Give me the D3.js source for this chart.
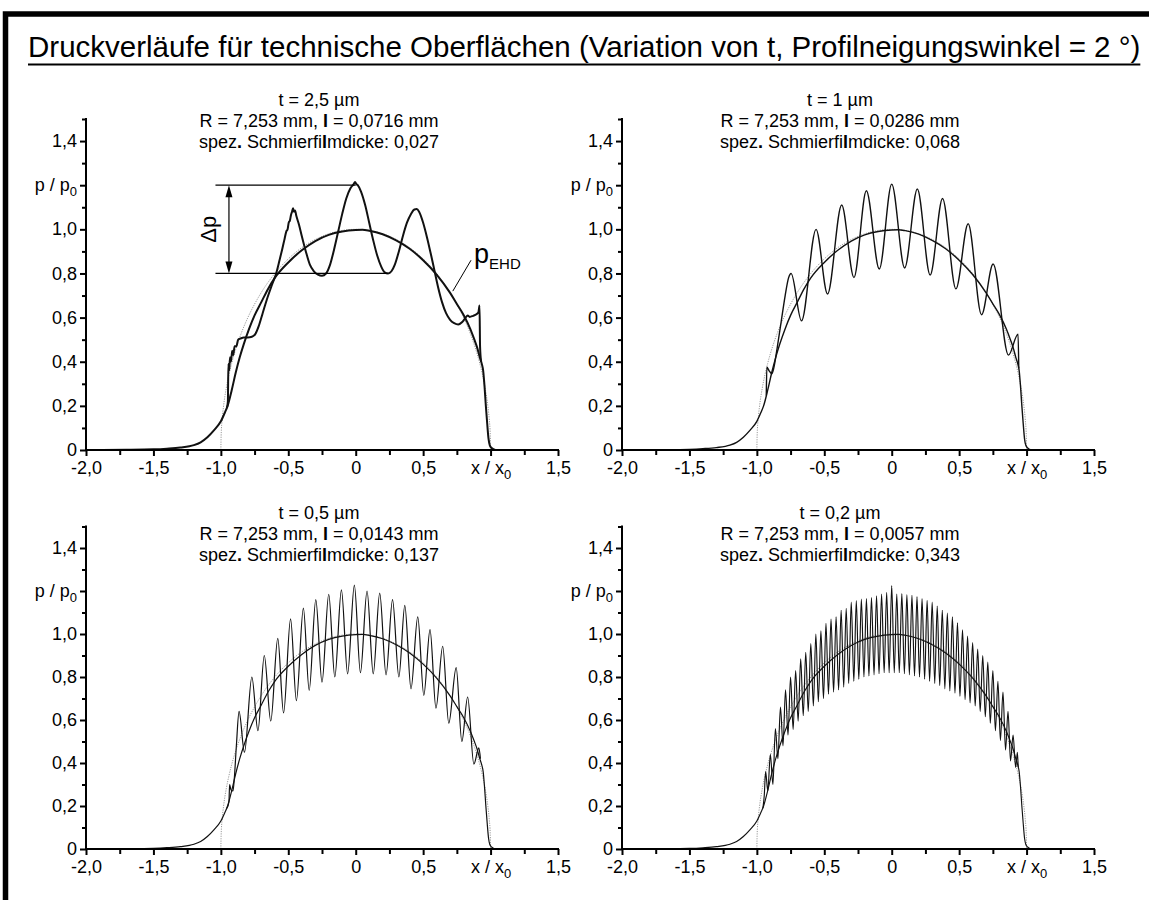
<!DOCTYPE html>
<html>
<head>
<meta charset="utf-8">
<script src="https://cdn.jsdelivr.net/npm/d3@7"></script>
<style>
  body { margin: 0; background: #fff; }
  svg { display: block; }
  text { font-family: "Liberation Sans", Arial, sans-serif; fill: #000; }
</style>
</head>
<body>
<svg id="chart" width="1149" height="900"></svg>
<script>
// ---------- axis ticks ----------
const xMajor = [-2, -1.5, -1, -0.5, 0, 0.5, 1, 1.5];
const xMajorLabels = ["-2,0", "-1,5", "-1,0", "-0,5", "0", "0,5", "x / x|0", "1,5"];
const xMinor = [-1.75, -1.25, -0.75, -0.25, 0.25, 0.75, 1.25];
const yMajor = [0, 0.2, 0.4, 0.6, 0.8, 1.0, 1.2, 1.4];
const yMajorLabels = ["0", "0,2", "0,4", "0,6", "0,8", "1,0", "p / p|0", "1,4"];
const yMinor = [0.1, 0.3, 0.5, 0.7, 0.9, 1.1, 1.3, 1.5];

// ---------- panel headings ----------
const tValues = ["2,5", "1", "0,5", "0,2"];
const radiusValue = "7,253";
const lValues = ["0,0716", "0,0286", "0,0143", "0,0057"];
const filmValues = ["0,027", "0,068", "0,137", "0,343"];

// ---------- Hertz pressure (dotted grey reference) ----------
const hertz = [
  [-1, 0], [-0.998, 0.063], [-0.99, 0.141], [-0.98, 0.199], [-0.96, 0.28], [-0.94, 0.341],
  [-0.92, 0.392], [-0.9, 0.436], [-0.85, 0.527], [-0.8, 0.6], [-0.75, 0.661], [-0.7, 0.714],
  [-0.6, 0.8], [-0.5, 0.866], [-0.4, 0.917], [-0.3, 0.954], [-0.2, 0.98], [-0.1, 0.995],
  [0, 1], [0.1, 0.995], [0.2, 0.98], [0.3, 0.954], [0.4, 0.917], [0.5, 0.866], [0.6, 0.8],
  [0.7, 0.714], [0.75, 0.661], [0.8, 0.6], [0.85, 0.527], [0.9, 0.436], [0.92, 0.392],
  [0.94, 0.341], [0.96, 0.28], [0.98, 0.199], [0.99, 0.141], [0.998, 0.063], [1, 0]
];

// ---------- smooth EHD pressure ----------
const ehd = [
  [-2.0, 0], [-1.7, 0.001], [-1.5, 0.003], [-1.4, 0.006], [-1.3, 0.011], [-1.2, 0.022],
  [-1.15, 0.035], [-1.1, 0.058], [-1.05, 0.09], [-1.0, 0.13], [-0.97, 0.17], [-0.95, 0.2],
  [-0.92, 0.27], [-0.89, 0.35], [-0.86, 0.42], [-0.83, 0.48], [-0.79, 0.55], [-0.75, 0.61],
  [-0.7, 0.67], [-0.65, 0.73], [-0.6, 0.78], [-0.5, 0.85], [-0.4, 0.905], [-0.3, 0.947],
  [-0.2, 0.975], [-0.1, 0.99], [0.0, 0.997], [0.05, 0.998], [0.1, 0.994], [0.2, 0.978],
  [0.3, 0.95], [0.4, 0.912], [0.5, 0.86], [0.6, 0.795], [0.7, 0.712], [0.75, 0.662],
  [0.8, 0.612], [0.85, 0.548], [0.88, 0.5], [0.9, 0.465], [0.92, 0.42], [0.935, 0.39],
  [0.945, 0.36], [0.955, 0.29], [0.965, 0.2], [0.975, 0.12], [0.985, 0.05], [0.995, 0.02],
  [1.01, 0.008], [1.035, 0]
];

// ---------- rough-surface pressure, t = 2,5 µm ----------
const rough25 = [
  [-0.955, 0.19], [-0.948, 0.22], [-0.944, 0.39], [-0.938, 0.36], [-0.932, 0.42], [-0.925, 0.4],
  [-0.916, 0.45], [-0.908, 0.43], [-0.898, 0.47], [-0.885, 0.47], [-0.872, 0.5], [-0.855, 0.505],
  [-0.83, 0.51], [-0.8, 0.51], [-0.77, 0.513], [-0.745, 0.525], [-0.72, 0.56], [-0.69, 0.62],
  [-0.66, 0.68], [-0.62, 0.75], [-0.59, 0.8], [-0.565, 0.86], [-0.545, 0.91], [-0.53, 0.95],
  [-0.515, 0.99], [-0.505, 1.0], [-0.497, 1.03], [-0.488, 1.04], [-0.48, 1.065], [-0.472, 1.08],
  [-0.465, 1.095], [-0.458, 1.08], [-0.45, 1.085], [-0.44, 1.06], [-0.42, 1.02], [-0.4, 0.97],
  [-0.37, 0.9], [-0.34, 0.84], [-0.31, 0.81], [-0.28, 0.795], [-0.25, 0.79], [-0.22, 0.8],
  [-0.19, 0.84], [-0.16, 0.91], [-0.13, 0.99], [-0.1, 1.07], [-0.07, 1.14], [-0.04, 1.185],
  [-0.015, 1.205], [-0.005, 1.215], [0.005, 1.205], [0.015, 1.2], [0.04, 1.17], [0.07, 1.11],
  [0.1, 1.03], [0.13, 0.95], [0.16, 0.88], [0.19, 0.83], [0.215, 0.805], [0.24, 0.8],
  [0.265, 0.81], [0.29, 0.84], [0.32, 0.9], [0.35, 0.97], [0.38, 1.03], [0.41, 1.07],
  [0.435, 1.09], [0.452, 1.092], [0.47, 1.08], [0.5, 1.03], [0.53, 0.96], [0.56, 0.88],
  [0.585, 0.81], [0.61, 0.74], [0.64, 0.67], [0.67, 0.62], [0.7, 0.59], [0.73, 0.575],
  [0.76, 0.569], [0.79, 0.58], [0.815, 0.6], [0.83, 0.61], [0.845, 0.603], [0.87, 0.608],
  [0.895, 0.615], [0.91, 0.625], [0.918, 0.655], [0.922, 0.47], [0.93, 0.4]
];

// ---------- rough-surface pressure, t = 1 µm ----------
const rough10 = [
  [-0.93, 0.247], [-0.926, 0.375], [-0.91, 0.36], [-0.89, 0.345], [-0.875, 0.37], [-0.85, 0.46],
  [-0.82, 0.58], [-0.79, 0.7], [-0.765, 0.78], [-0.746, 0.8], [-0.669, 0.585], [-0.561, 1.0],
  [-0.476, 0.707], [-0.371, 1.11], [-0.28, 0.782], [-0.188, 1.175], [-0.092, 0.82], [0.0, 1.205],
  [0.096, 0.825], [0.19, 1.183], [0.285, 0.793], [0.377, 1.14], [0.476, 0.73], [0.567, 1.025],
  [0.666, 0.613], [0.752, 0.843], [0.866, 0.43], [0.937, 0.525], [0.942, 0.37]
];

// ---------- rough-surface pressure, t = 0,5 µm ----------
const rough05 = [
  [-0.955, 0.19], [-0.94, 0.22], [-0.935, 0.3], [-0.925, 0.275], [-0.91, 0.27], [-0.9, 0.33],
  [-0.885, 0.48], [-0.865, 0.64], [-0.825, 0.45], [-0.77, 0.8], [-0.725, 0.55], [-0.678, 0.9],
  [-0.63, 0.595], [-0.578, 0.98], [-0.535, 0.633], [-0.483, 1.07], [-0.44, 0.69], [-0.388, 1.12],
  [-0.345, 0.738], [-0.296, 1.16], [-0.25, 0.776], [-0.2, 1.185], [-0.155, 0.8], [-0.106, 1.205],
  [-0.06, 0.815], [-0.01, 1.227], [0.035, 0.82], [0.084, 1.2], [0.13, 0.815], [0.178, 1.19],
  [0.225, 0.81], [0.273, 1.16], [0.32, 0.8], [0.364, 1.133], [0.41, 0.745], [0.46, 1.08],
  [0.505, 0.715], [0.551, 1.02], [0.595, 0.655], [0.645, 0.943], [0.69, 0.585], [0.745, 0.844],
  [0.787, 0.5], [0.83, 0.707], [0.876, 0.395], [0.913, 0.47], [0.925, 0.42]
];

// ---------- rough-surface pressure, t = 0,2 µm ----------
const rough02 = [
  [-0.955, 0.19], [-0.945, 0.25], [-0.935, 0.36], [-0.919, 0.27], [-0.9, 0.44], [-0.881, 0.3],
  [-0.8625, 0.56], [-0.844, 0.42], [-0.825, 0.66], [-0.806, 0.48], [-0.7875, 0.74], [-0.769, 0.53],
  [-0.75, 0.8], [-0.731, 0.556], [-0.7125, 0.83], [-0.694, 0.595], [-0.675, 0.885], [-0.656, 0.62],
  [-0.6375, 0.915], [-0.619, 0.64], [-0.6, 0.955], [-0.581, 0.665], [-0.5625, 1.0], [-0.544, 0.685],
  [-0.525, 1.015], [-0.506, 0.7], [-0.4875, 1.05], [-0.469, 0.72], [-0.45, 1.07], [-0.431, 0.73],
  [-0.4125, 1.08], [-0.394, 0.74], [-0.375, 1.11], [-0.356, 0.753], [-0.3375, 1.12], [-0.319, 0.77],
  [-0.3, 1.148], [-0.281, 0.78], [-0.2625, 1.155], [-0.244, 0.79], [-0.225, 1.162], [-0.206, 0.8],
  [-0.1875, 1.165], [-0.169, 0.805], [-0.15, 1.17], [-0.131, 0.81], [-0.1125, 1.178], [-0.094, 0.815],
  [-0.075, 1.186], [-0.056, 0.82], [-0.0375, 1.194], [-0.019, 0.82], [0, 1.225], [0.019, 0.82],
  [0.0375, 1.186], [0.056, 0.82], [0.075, 1.188], [0.094, 0.815], [0.1125, 1.183], [0.131, 0.81],
  [0.15, 1.18], [0.169, 0.805], [0.1875, 1.174], [0.206, 0.8], [0.225, 1.165], [0.244, 0.79],
  [0.2625, 1.157], [0.281, 0.78], [0.3, 1.148], [0.319, 0.77], [0.3375, 1.13], [0.356, 0.76],
  [0.375, 1.11], [0.394, 0.745], [0.4125, 1.097], [0.431, 0.735], [0.45, 1.08], [0.469, 0.725],
  [0.4875, 1.052], [0.506, 0.71], [0.525, 1.02], [0.544, 0.695], [0.5625, 0.99], [0.581, 0.68],
  [0.6, 0.96], [0.619, 0.665], [0.6375, 0.93], [0.656, 0.64], [0.675, 0.9], [0.694, 0.615],
  [0.7125, 0.87], [0.731, 0.585], [0.75, 0.83], [0.769, 0.55], [0.7875, 0.78], [0.806, 0.505],
  [0.825, 0.73], [0.844, 0.46], [0.8625, 0.64], [0.881, 0.41], [0.9, 0.53], [0.919, 0.38],
  [0.932, 0.45], [0.938, 0.38]
];

const roughSeries = [rough25, rough10, rough05, rough02];

// Δp annotation in the first panel: pressure levels and x extent
const dpTop = 1.2, dpBottom = 0.8;
const dpLineStart = -1.04, dpTopEnd = 0.0, dpBottomEnd = 0.24, dpArrowX = -0.94;
// p_EHD label leader line (start on the curve, end near the label)
const ehdLeader = [[0.72, 0.72], [0.855, 0.86]];

// ---------- layout ----------
const W = 1149, H = 900;
const layout = [
  { x0: 86,  x1: 558,  yB: 450, yT: 119,   cx: 319, ty: 106, lw: 2.0 },
  { x0: 622, x1: 1094, yB: 450, yT: 119,   cx: 840, ty: 106, lw: 1.4 },
  { x0: 86,  x1: 558,  yB: 849, yT: 526.5, cx: 319, ty: 519, lw: 1.2 },
  { x0: 622, x1: 1094, yB: 849, yT: 526.5, cx: 840, ty: 519, lw: 1.15 }
];

const svg = d3.select("#chart");

// outer frame (continues past the right and bottom edges)
svg.append("rect")
  .attr("x", 5.5).attr("y", 14)
  .attr("width", W + 40).attr("height", H + 40)
  .attr("fill", "none").attr("stroke", "#000").attr("stroke-width", 5.5);

// title
const title = svg.append("text")
  .attr("x", 28).attr("y", 57)
  .attr("font-size", 29.5)
  .text("Druckverläufe für technische Oberflächen (Variation von t, Profilneigungswinkel = 2 °)");
const tb = title.node().getBBox();
svg.append("line")
  .attr("x1", tb.x).attr("x2", tb.x + tb.width)
  .attr("y1", 64.5).attr("y2", 64.5)
  .attr("stroke", "#000").attr("stroke-width", 2);

// writes "base|sub" as text with a subscript part
function labelWithSub(sel, str, subSize, dy) {
  const parts = str.split("|");
  sel.text(null);
  sel.append("tspan").text(parts[0]);
  if (parts.length > 1) {
    sel.append("tspan").attr("font-size", subSize).attr("dy", dy).text(parts[1]);
  }
}

layout.forEach((L, i) => {
  const x = d3.scaleLinear().domain([-2, 1.5]).range([L.x0, L.x1]);
  const y = d3.scaleLinear().domain([0, 1.5]).range([L.yB, L.yT]);
  const g = svg.append("g");

  // heading lines
  const head = g.append("g").attr("font-size", 18).attr("text-anchor", "middle");
  head.append("text").attr("x", L.cx).attr("y", L.ty).text(`t = ${tValues[i]} µm`);
  const r = head.append("text").attr("x", L.cx).attr("y", L.ty + 21);
  r.append("tspan").text(`R = ${radiusValue} mm, `);
  r.append("tspan").attr("font-weight", "bold").text("l");
  r.append("tspan").text(` = ${lValues[i]} mm`);
  const s = head.append("text").attr("x", L.cx).attr("y", L.ty + 42);
  s.append("tspan").text("spez");
  s.append("tspan").attr("font-weight", "bold").text(".");
  s.append("tspan").text(" Schmierfi");
  s.append("tspan").attr("font-weight", "bold").text("l");
  s.append("tspan").text(`mdicke: ${filmValues[i]}`);

  // Hertz reference (dotted grey)
  g.append("path").datum(hertz)
    .attr("fill", "none").attr("stroke", "#9a9a9a").attr("stroke-width", 1)
    .attr("stroke-dasharray", "1.2,1.2")
    .attr("d", d3.line().x(d => x(d[0])).y(d => y(d[1])).curve(d3.curveMonotoneX));

  // rough-surface pressure
  g.append("path").datum(roughSeries[i])
    .attr("fill", "none").attr("stroke", "#111").attr("stroke-width", L.lw)
    .attr("stroke-linejoin", "round")
    .attr("d", d3.line().x(d => x(d[0])).y(d => y(d[1])).curve(d3.curveMonotoneX));

  // EHD pressure
  g.append("path").datum(ehd)
    .attr("fill", "none").attr("stroke", "#111").attr("stroke-width", L.lw)
    .attr("d", d3.line().x(d => x(d[0])).y(d => y(d[1])).curve(d3.curveMonotoneX));

  // y axis
  const yAx = g.append("g").attr("transform", `translate(${L.x0},0)`)
    .call(d3.axisLeft(y).tickValues(yMinor).tickSize(4).tickSizeOuter(0).tickFormat(""));
  yAx.select(".domain").remove();
  yAx.selectAll("line").attr("stroke-width", 2);
  const yAxM = g.append("g").attr("transform", `translate(${L.x0},0)`)
    .call(d3.axisLeft(y).tickValues(yMajor).tickSize(6).tickSizeOuter(0).tickPadding(3)
      .tickFormat((d, k) => yMajorLabels[k]));
  yAxM.select(".domain").remove();
  yAxM.selectAll("line").attr("stroke-width", 2);
  yAxM.selectAll("text").attr("font-size", 18).attr("font-family", null).attr("dy", "0.31em")
    .each(function (d, k) { labelWithSub(d3.select(this), yMajorLabels[k], 13, 5); });
  g.append("line").attr("x1", L.x0).attr("x2", L.x0)
    .attr("y1", y(0) + 1).attr("y2", y(1.5) - 1)
    .attr("stroke", "#000").attr("stroke-width", 2);

  // x axis
  const xAx = g.append("g").attr("transform", `translate(0,${L.yB})`)
    .call(d3.axisBottom(x).tickValues(xMinor).tickSize(5).tickSizeOuter(0).tickFormat(""));
  xAx.select(".domain").remove();
  xAx.selectAll("line").attr("stroke-width", 2);
  const xAxM = g.append("g").attr("transform", `translate(0,${L.yB})`)
    .call(d3.axisBottom(x).tickValues(xMajor).tickSize(6).tickSizeOuter(0).tickPadding(5)
      .tickFormat((d, k) => xMajorLabels[k]));
  xAxM.select(".domain").remove();
  xAxM.selectAll("line").attr("stroke-width", 2);
  xAxM.selectAll("text").attr("font-size", 18).attr("font-family", null)
    .each(function (d, k) { labelWithSub(d3.select(this), xMajorLabels[k], 13, 5); });
  g.append("line").attr("x1", L.x0 - 1).attr("x2", L.x1 + 1)
    .attr("y1", L.yB).attr("y2", L.yB)
    .attr("stroke", "#000").attr("stroke-width", 2);

  // Δp and p_EHD annotations in the first panel
  if (i === 0) {
    const a = g.append("g").attr("stroke", "#000").attr("stroke-width", 1.2);
    a.append("line").attr("x1", x(dpLineStart)).attr("x2", x(dpTopEnd))
      .attr("y1", y(dpTop)).attr("y2", y(dpTop));
    a.append("line").attr("x1", x(dpLineStart)).attr("x2", x(dpBottomEnd))
      .attr("y1", y(dpBottom)).attr("y2", y(dpBottom));
    a.append("line").attr("x1", x(dpArrowX)).attr("x2", x(dpArrowX))
      .attr("y1", y(dpTop) + 8).attr("y2", y(dpBottom) - 8);
    const ax = x(dpArrowX), yt = y(dpTop), yb = y(dpBottom);
    g.append("path").attr("fill", "#000")
      .attr("d", `M${ax},${yt} L${ax - 3.5},${yt + 12} L${ax + 3.5},${yt + 12} Z`);
    g.append("path").attr("fill", "#000")
      .attr("d", `M${ax},${yb} L${ax - 3.5},${yb - 12} L${ax + 3.5},${yb - 12} Z`);
    g.append("text")
      .attr("transform", `translate(${ax - 13},${(yt + yb) / 2}) rotate(-90)`)
      .attr("text-anchor", "middle").attr("font-size", 22)
      .text("Δp");

    g.append("line")
      .attr("x1", x(ehdLeader[0][0])).attr("y1", y(ehdLeader[0][1]))
      .attr("x2", x(ehdLeader[1][0])).attr("y2", y(ehdLeader[1][1]))
      .attr("stroke", "#000").attr("stroke-width", 1);
    const pl = g.append("text")
      .attr("x", x(ehdLeader[1][0]) + 3).attr("y", y(ehdLeader[1][1]) + 3)
      .attr("font-size", 27);
    pl.append("tspan").text("p");
    pl.append("tspan").attr("font-size", 15).attr("dy", 6).text("EHD");
  }
});
</script>
</body>
</html>
